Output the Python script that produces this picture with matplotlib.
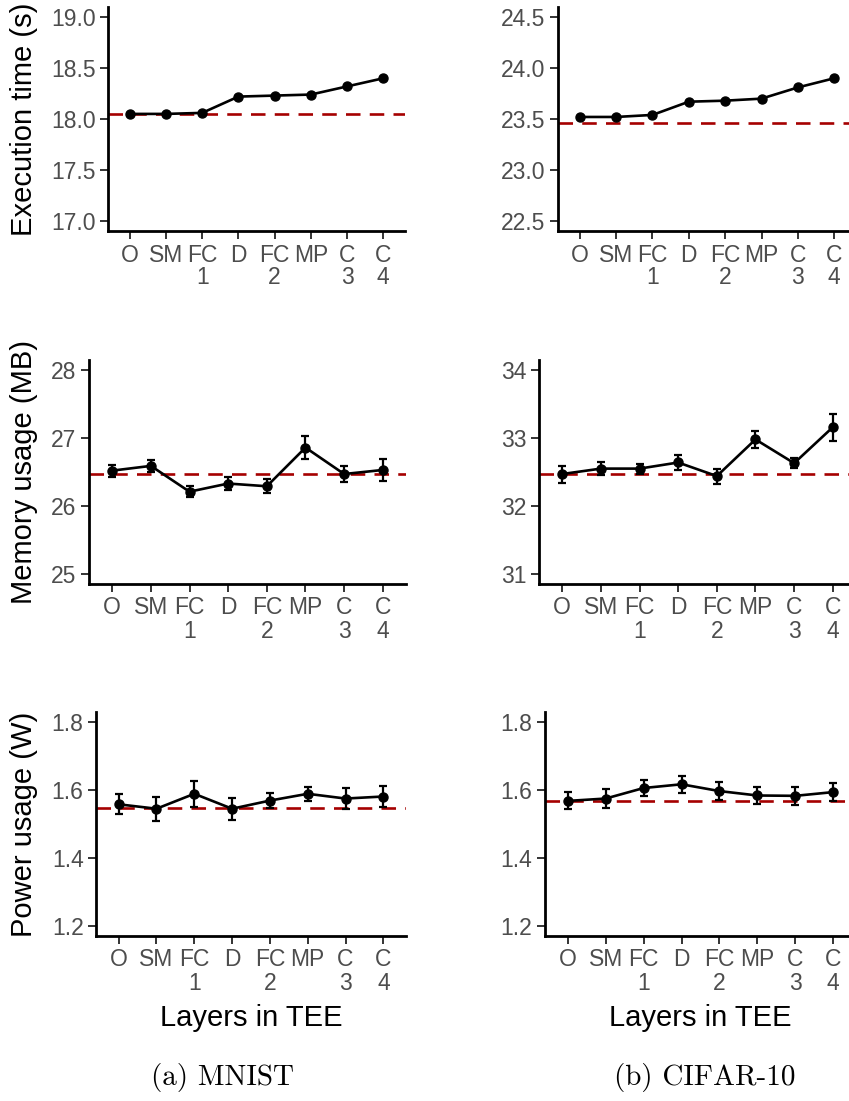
import numpy as np
import matplotlib.pyplot as plt

plt.rcParams['font.family'] = ['Liberation Sans', 'DejaVu Sans']

layers = ['O', 'SM', 'FC\n1', 'D', 'FC\n2', 'MP', 'C\n3', 'C\n4']

# MNIST
mnist_time = [18.05, 18.05, 18.06, 18.22, 18.23, 18.24, 18.32, 18.40]
mnist_time_base = 18.05
mnist_mem = [26.52, 26.59, 26.21, 26.33, 26.29, 26.86, 26.47, 26.53]
mnist_mem_err = [0.09, 0.09, 0.085, 0.09, 0.10, 0.17, 0.12, 0.165]
mnist_mem_base = 26.47
mnist_pow = [1.558, 1.545, 1.589, 1.545, 1.569, 1.589, 1.575, 1.581]
mnist_pow_err = [0.029, 0.036, 0.039, 0.033, 0.022, 0.021, 0.030, 0.030]
mnist_pow_base = 1.548

# CIFAR-10
cifar_time = [23.52, 23.52, 23.54, 23.67, 23.68, 23.70, 23.81, 23.90]
cifar_time_base = 23.46
cifar_mem = [32.47, 32.55, 32.55, 32.64, 32.44, 32.98, 32.63, 33.16]
cifar_mem_err = [0.125, 0.10, 0.075, 0.105, 0.11, 0.125, 0.075, 0.20]
cifar_mem_base = 32.47
cifar_pow = [1.568, 1.575, 1.606, 1.617, 1.597, 1.584, 1.583, 1.594]
cifar_pow_err = [0.025, 0.027, 0.024, 0.025, 0.026, 0.025, 0.026, 0.026]
cifar_pow_base = 1.568

W, H = 849, 1101
fig = plt.figure(figsize=(W / 100, H / 100), dpi=100)


def px_axes(x0, y0, x1, y1):
    return fig.add_axes([x0 / W, 1 - y1 / H, (x1 - x0) / W, (y1 - y0) / H])


# (pixel box, values, errors, baseline, y ticks, tick format)
panels = [
    ((108, 7, 405, 231), mnist_time, None, mnist_time_base,
     np.arange(17.0, 19.01, 0.5), '{:.1f}'),
    ((558, 7, 856, 231), cifar_time, None, cifar_time_base,
     np.arange(22.5, 24.51, 0.5), '{:.1f}'),
    ((89, 360, 406, 584), mnist_mem, mnist_mem_err, mnist_mem_base,
     np.arange(25, 28.01, 1), '{:.0f}'),
    ((539, 360, 856, 584), cifar_mem, cifar_mem_err, cifar_mem_base,
     np.arange(31, 34.01, 1), '{:.0f}'),
    ((96, 712, 406, 936), mnist_pow, mnist_pow_err, mnist_pow_base,
     np.arange(1.2, 1.81, 0.2), '{:.1f}'),
    ((545, 712, 856, 936), cifar_pow, cifar_pow_err, cifar_pow_base,
     np.arange(1.2, 1.81, 0.2), '{:.1f}'),
]

x = np.arange(1, len(layers) + 1)
for box, vals, errs, base, yt, fmt in panels:
    ax = px_axes(*box)
    ax.axhline(base, color='#a50000', lw=1.9, dashes=(5.5, 3.5), zorder=1)
    if errs is None:
        ax.plot(x, vals, color='black', lw=1.9, marker='o', ms=6.5, zorder=3)
    else:
        ax.errorbar(x, vals, yerr=errs, color='black', lw=1.9, marker='o',
                    ms=6.5, capsize=3.0, capthick=1.6, elinewidth=1.6,
                    zorder=3)
    span = yt[-1] - yt[0]
    ax.set_ylim(yt[0] - 0.05 * span, yt[-1] + 0.05 * span)
    ax.set_xlim(0.4, len(layers) + 0.6)
    ax.set_yticks(yt)
    ax.set_yticklabels([fmt.format(v) for v in yt])
    ax.set_xticks(x)
    ax.set_xticklabels(layers, linespacing=1.0, va='top')
    for s in ['top', 'right']:
        ax.spines[s].set_visible(False)
    for s in ['left', 'bottom']:
        ax.spines[s].set_linewidth(2.0)
        ax.spines[s].set_color('black')
    ax.tick_params(axis='both', length=5.5, width=1.4, color='#333333',
                   labelcolor='#4d4d4d', labelsize=16.5, pad=3.5)
    ax.patch.set_visible(False)

ylabels = [('Execution time (s)', 119), ('Memory usage (MB)', 472),
           ('Power usage (W)', 824)]
for lab, yc in ylabels:
    fig.text(24 / W, 1 - yc / H, lab, rotation=90, ha='center', va='center',
             fontsize=21, color='black')

fig.text(251 / W, 1 - 1018 / H, 'Layers in TEE', ha='center', va='center',
         fontsize=21)
fig.text(700 / W, 1 - 1018 / H, 'Layers in TEE', ha='center', va='center',
         fontsize=21)

fig.text(223 / W, 1 - 1078 / H, '(a) MNIST', ha='center', va='center',
         fontsize=21, family='cmr10')
fig.text(705 / W, 1 - 1078 / H, '(b) CIFAR-10', ha='center', va='center',
         fontsize=21, family='cmr10')

fig.savefig('out.png', dpi=100)
